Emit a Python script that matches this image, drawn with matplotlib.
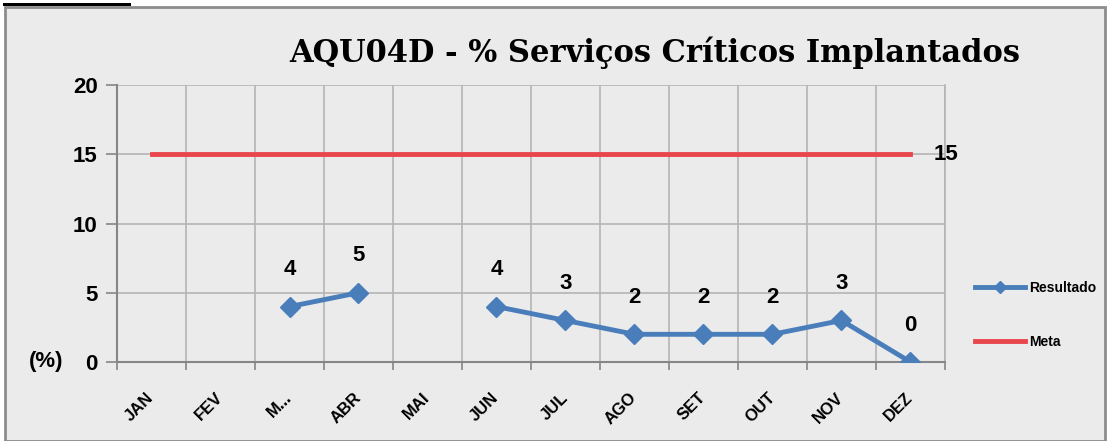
import numpy as np
import matplotlib
matplotlib.use("Agg")
from matplotlib import pyplot as plt
from matplotlib.lines import Line2D
from matplotlib.patches import Rectangle
from matplotlib.transforms import ScaledTranslation

meses = ["JAN", "FEV", "M...", "ABR", "MAI", "JUN", "JUL", "AGO", "SET", "OUT", "NOV", "DEZ"]
resultado = [np.nan, np.nan, 4, 5, np.nan, 4, 3, 2, 2, 2, 3, 0]
meta = [15] * 12
titulo = "AQU04D - % Serviços Críticos Implantados"

azul = "#4a7ebb"
vermelho = "#e8464c"
fundo = "#ebebeb"
grade = "#b4b4b4"

plt.rcParams["font.family"] = ["Liberation Sans", "DejaVu Sans"]
plt.rcParams["font.weight"] = "bold"

fig = plt.figure(figsize=(11.08, 4.41), dpi=100)
fig.patch.set_facecolor("white")
# fundo e moldura do grafico
fig.patches.append(Rectangle((5 / 1108, 0), 1100 / 1108, 434 / 441, transform=fig.transFigure,
                             facecolor=fundo, edgecolor="#8c8c8c", linewidth=2, zorder=-2))
fig.patches.append(Rectangle((3 / 1108, 435 / 441), 128 / 1108, 3 / 441, transform=fig.transFigure,
                             facecolor="black", edgecolor="none", zorder=-1))

ax = fig.add_axes([117 / 1108, 1 - 362 / 441, 828 / 1108, 277 / 441])
ax.set_zorder(2)
ax.set_facecolor("none")
x = np.arange(len(meses))

ax.plot(x, meta, color=vermelho, linewidth=3.5, solid_capstyle="projecting", zorder=3)
ax.plot(x, resultado, color=azul, linewidth=3.5, marker="D", markersize=10, zorder=4)

for xi, v in zip(x, resultado):
    if not np.isnan(v):
        ax.annotate(f"{v:g}", (xi, v), xytext=(0, 19), textcoords="offset points",
                    ha="center", va="bottom", fontsize=16, fontweight="bold")
ax.annotate(f"{meta[-1]:g}", (x[-1], meta[-1]), xytext=(17, 0), textcoords="offset points",
            ha="left", va="center", fontsize=16, fontweight="bold")

ax.set_xlim(-0.5, 11.5)
ax.set_ylim(0, 20)
ax.set_yticks([0, 5, 10, 15, 20])
ax.set_yticklabels(["0", "5", "10", "15", "20"], fontsize=16, fontweight="bold")
ax.set_xticks(np.arange(-0.5, 12, 1))
ax.set_xticklabels([])
ax.set_xticks(x, minor=True)
ax.set_xticklabels(meses, minor=True, rotation=45, ha="right", va="center",
                   rotation_mode="anchor", fontsize=12, fontweight="bold")
desloc = ScaledTranslation(5 / 100, 0, fig.dpi_scale_trans)
for lbl in ax.get_xticklabels(minor=True):
    lbl.set_transform(lbl.get_transform() + desloc)
ax.tick_params(axis="x", which="major", length=6, color="#868686", width=1.2)
ax.tick_params(axis="x", which="minor", length=0, pad=24)
ax.tick_params(axis="y", length=8, color="#868686", width=1.2, pad=6)
ax.text(-0.065, 0, "(%)", transform=ax.get_yaxis_transform(), ha="right", va="center",
        fontsize=16, fontweight="bold")

ax.grid(True, which="major", color=grade, linewidth=1.2)
for s in ["top", "right"]:
    ax.spines[s].set_visible(False)
for s in ["left", "bottom"]:
    ax.spines[s].set_color("#868686")
    ax.spines[s].set_linewidth(1.5)
ax.set_axisbelow(True)
ax.plot([1, 1], [0, 1], transform=ax.transAxes, color=grade, linewidth=1.2, clip_on=False)

fig.text(655 / 1108, 1 - 53 / 441, titulo, ha="center", va="center", fontsize=22,
         fontweight="bold", family=["DejaVu Serif"])

handles = [Line2D([], [], color=azul, linewidth=3.5, marker="D", markersize=6),
           Line2D([], [], color=vermelho, linewidth=3.5)]
fig.legend(handles, ["Resultado", "Meta"], loc="center left", bbox_to_anchor=(962 / 1108, 1 - 315 / 441),
           frameon=False, handlelength=3.6, labelspacing=2.9, handletextpad=0.3,
           prop={"weight": "bold", "size": 10})

fig.savefig("out.png", dpi=100, facecolor=fig.get_facecolor())
